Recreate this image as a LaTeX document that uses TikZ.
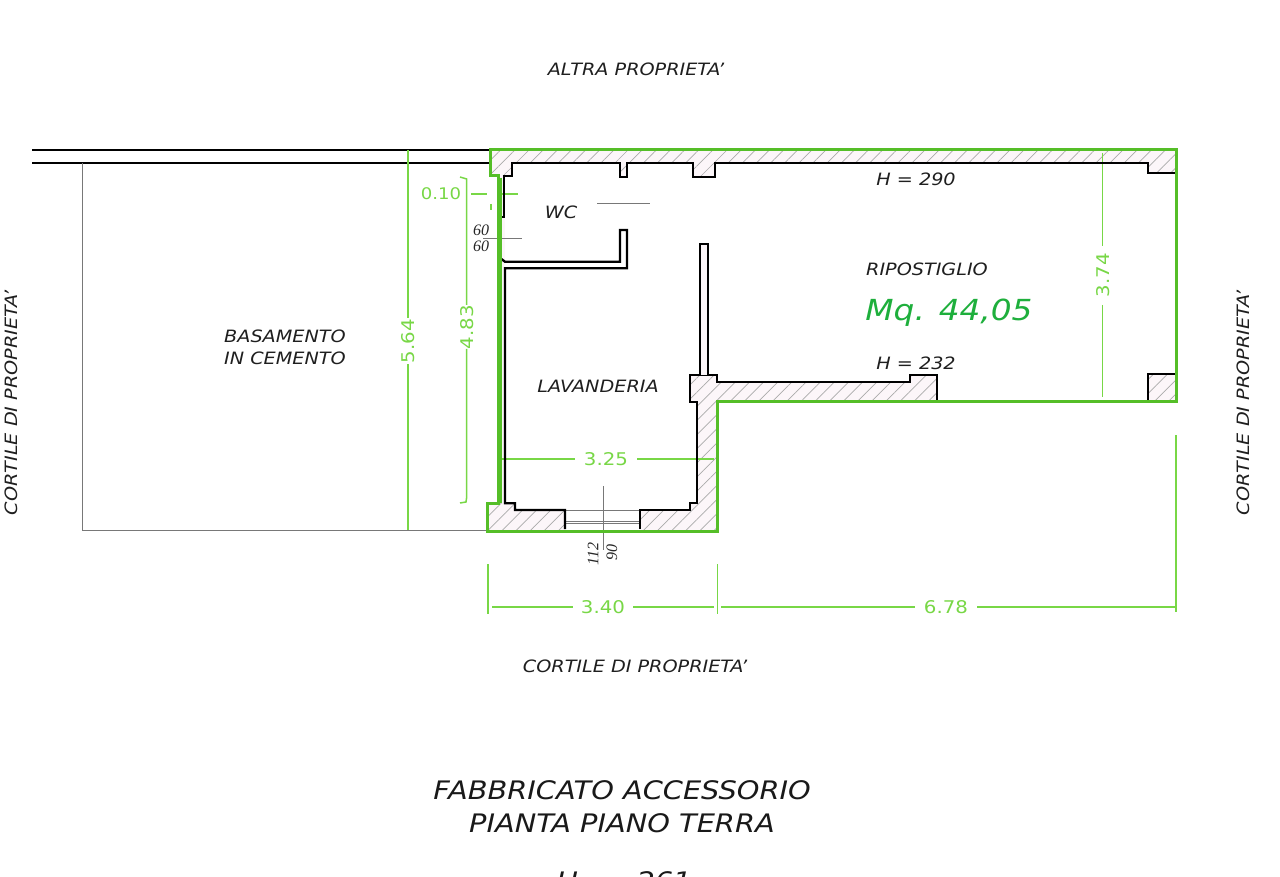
\documentclass[tikz,border=0pt]{standalone}
\usepackage{fontspec}
\setmainfont{DejaVu Sans}[FakeStretch=1.13]
\newfontfamily\dimserif{Liberation Serif}
\usetikzlibrary{patterns.meta}
\definecolor{dimgreen}{RGB}{120,215,70}
\definecolor{wallgreen}{RGB}{85,190,40}
\definecolor{areagreen}{RGB}{30,175,60}
\definecolor{wallpink}{RGB}{252,246,249}
\definecolor{hatchgray}{RGB}{170,170,170}
\definecolor{thingray}{RGB}{120,120,120}
\tikzset{
  x=1pt,y=-1pt,
  wallfill/.style={fill=wallpink,postaction={pattern={Lines[angle=45,distance=10pt,line width=.7pt]},pattern color=hatchgray}},
  wallblack/.style={draw=black,line width=2.3pt,line join=miter},
  wallout/.style={draw=wallgreen,line width=3pt,line join=miter},
  dimline/.style={draw=dimgreen,line width=1.5pt},
  thin gray/.style={draw=thingray,line width=.8pt},
  lbl/.style={inner sep=0pt,font=\fontsize{17}{20}\selectfont\itshape,text=black!88},
  titlelbl/.style={inner sep=0pt,font=\fontsize{25.5}{28}\selectfont\itshape,text=black!90},
  dimlbl/.style={inner sep=0pt,font=\fontsize{17.5}{20}\selectfont,text=dimgreen},
  sm/.style={inner sep=0pt,font=\dimserif\fontsize{16}{16}\selectfont\itshape,text=black!85},
}
\begin{document}
\begin{tikzpicture}
\useasboundingbox (0,0) rectangle (1280,877);
% building walls
\path[wallfill] (490.7,149.5)--(1176,149.5)--(1176,401.7)--(717.7,401.7)--(717.7,531)--(487.7,531)--(487.7,503)--(498.3,503)--(498.3,176)--(490.7,176)--cycle;
\fill[white] (511.7,163)--(620,163)--(620,176.7)--(627.3,176.7)--(627.3,163)--(693.3,163)--(693.3,176.7)--(714.7,176.7)--(714.7,163)--(1148.3,163)--(1148.3,173.3)--(1175,173.3)--(1175,374.3)--(1148.3,374.3)--(1148.3,400.5)--(937.3,400.5)--(937.3,375)--(910,375)--(910,381.7)--(717.3,381.7)--(717.3,375)--(690,375)--(690,401.7)--(697.3,401.7)--(697.3,502.7)--(690,502.7)--(690,510)--(640,510)--(640,530)--(565,530)--(565,510)--(515,510)--(515,503.3)--(504.5,503.3)--(504.5,176)--(511.7,176)--cycle;
% left wall between green and black
\fill[wallpink] (498.3,176) rectangle (504.5,503);
% property lines
\draw[draw=black,line width=2.2pt] (32,150)--(490,150) (32,163)--(490,163);
\draw[draw=thingray,line width=.9pt] (82,163)--(82,530)--(488,530);
% dimension lines
\draw[dimline] (408,150)--(408,318) (408,364)--(408,530);
\draw[dimline] (460,177)--(466.7,179)--(466.7,305) (466.7,349)--(466.7,497)--(466,502)--(460,503);
\draw[dimline] (1102.7,153)--(1102.7,246) (1102.7,305)--(1102.7,397);
\draw[dimline] (501,459)--(575,459) (637,459)--(714,459);
\draw[dimline] (488,564)--(488,614) (717.5,564)--(717.5,614) (1176,435)--(1176,612);
\draw[dimline] (492,607)--(573,607) (633,607)--(714,607) (721,607)--(915,607) (977,607)--(1175,607);
\draw[dimline] (471,194)--(487,194) (500,194)--(518,194) (491,204)--(491,210);
% thin grey leaders
\draw[thin gray] (597,203.5)--(650,203.5) (483,238)--(522,238) (603,486)--(603,550);
% window
\draw[draw=thingray,line width=.9pt] (565,510)--(640,510) (565,521)--(640,521) (565,523.5)--(640,523.5);
% black wall outlines
\draw[wallblack] (498.7,216.7)--(504.3,216.7)--(504.3,176)--(511.7,176)--(511.7,163)--(620,163)--(620,176.7)--(627.3,176.7)--(627.3,163)--(693.3,163)--(693.3,176.7)--(714.7,176.7)--(714.7,163)--(1148.3,163)--(1148.3,173.3)--(1175,173.3);
\draw[wallblack] (500,258)--(505,261.7)--(620,261.7)--(620,230)--(627,230)--(627,268.3)--(505,268.3)--(505,503.3)--(515,503.3)--(515,510)--(565,510)--(565,529);
\draw[wallblack] (640,529)--(640,510)--(690,510)--(690,502.7)--(697.3,502.7)--(697.3,401.7)--(690,401.7)--(690,375)--(717.3,375)--(717.3,381.7)--(910,381.7)--(910,375)--(937.3,375)--(937.3,401);
\draw[wallblack] (1175,374.3)--(1148.3,374.3)--(1148.3,401);
\draw[draw=black,line width=2pt,fill=wallpink] (700,375)--(700,244)--(708,244)--(708,375);
% green outline
\draw[wallout] (1176,401.7)--(717.7,401.7)--(717.7,531)--(487.7,531)--(487.7,503)--(498.3,503)--(498.3,176)--(490.7,176)--(490.7,149.5)--(1176,149.5)--cycle;
\draw[draw=wallgreen,line width=2.5pt] (500.5,178)--(500.5,503);
% labels
\node[lbl] (altra) at (636,69) {ALTRA PROPRIETA'};
\node[lbl,rotate=90] (cortl) at (11,403) {CORTILE DI PROPRIETA'};
\node[lbl,rotate=90] (cortr) at (1243,403) {CORTILE DI PROPRIETA'};
\node[lbl] (cortb) at (635,666) {CORTILE DI PROPRIETA'};
\node[lbl] (bas1) at (285,336) {BASAMENTO};
\node[lbl] (bas2) at (285,358) {IN CEMENTO};
\node[lbl] (wc) at (561,212) {WC};
\node[lbl] (lav) at (598,386) {LAVANDERIA};
\node[lbl] (rip) at (927,269) {RIPOSTIGLIO};
\node[lbl] (h290) at (916,179) {H = 290};
\node[lbl] (h232) at (916,363) {H = 232};
\node[inner sep=0pt,font=\fontsize{29}{32}\selectfont\itshape,text=areagreen] (mq) at (949,313) {Mq. 44,05};
\node[dimlbl,rotate=90] (d564) at (408,341) {5.64};
\node[dimlbl,rotate=90] (d483) at (467,327) {4.83};
\node[dimlbl,rotate=90] (d374) at (1103,275) {3.74};
\node[dimlbl,font=\fontsize{16}{20}\selectfont] (d010) at (441,194) {0.10};
\node[dimlbl] (d325) at (606,459) {3.25};
\node[dimlbl] (d340) at (603,607) {3.40};
\node[dimlbl] (d678) at (946,607) {6.78};
\node[sm] (s60a) at (481,230) {60};
\node[sm] (s60b) at (481,246) {60};
\node[sm,rotate=90] (s112) at (593,554) {112};
\node[sm,rotate=90] (s90) at (612,552) {90};
\node[titlelbl] (t1) at (622,790) {FABBRICATO ACCESSORIO};
\node[titlelbl] (t2) at (622,823) {PIANTA PIANO TERRA};
\node[titlelbl] (t3) at (624,881) {H\hspace{8pt} = \hspace{8pt}261};
\end{tikzpicture}
\end{document}
